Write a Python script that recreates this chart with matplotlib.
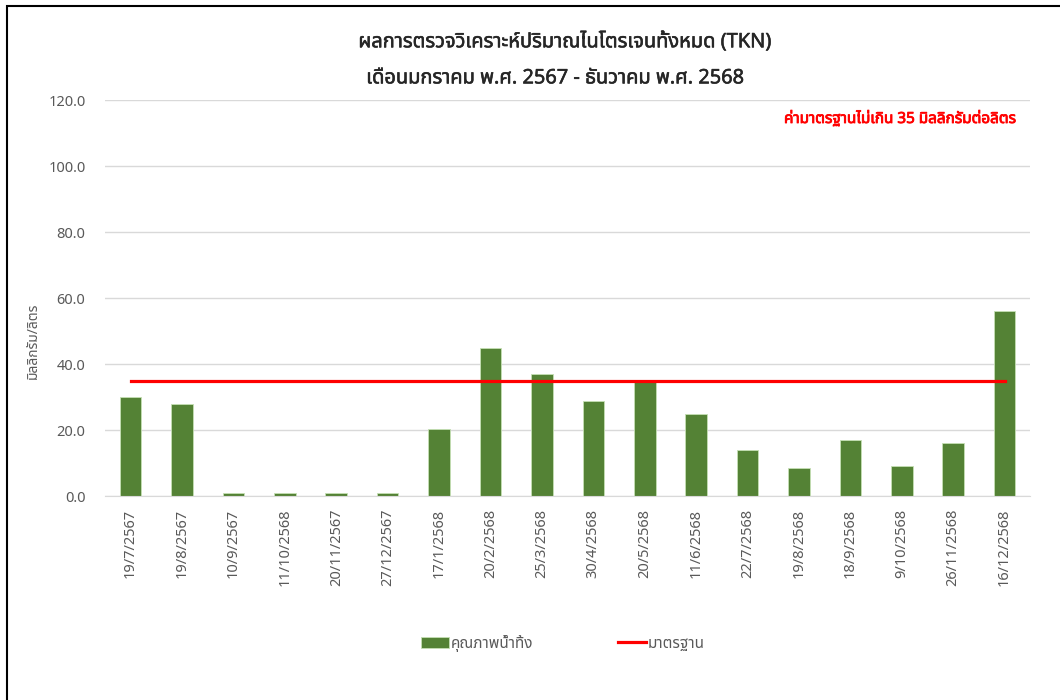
import numpy as np
import matplotlib
matplotlib.use('Agg')
import matplotlib.pyplot as plt
import matplotlib.patheffects as pe
from matplotlib import font_manager
from matplotlib.ft2font import FT2Font
from matplotlib.patches import Rectangle

# Data
dates = ['19/7/2567', '19/8/2567', '10/9/2567', '11/10/2568', '20/11/2567',
         '27/12/2567', '17/1/2568', '20/2/2568', '25/3/2568', '30/4/2568',
         '20/5/2568', '11/6/2568', '22/7/2568', '19/8/2568', '18/9/2568',
         '9/10/2568', '26/11/2568', '16/12/2568']
tkn = [30.0, 28.0, 1.0, 1.0, 1.0, 1.0, 20.3, 45.0, 37.0, 28.8,
       35.2, 25.0, 14.0, 8.7, 17.0, 9.1, 16.0, 56.0]
standard = [35.0] * len(dates)

# find a font that has Thai glyphs
def thai_fonts():
    prefer = ['Leelawadee', 'Tahoma', 'Noto Sans Thai', 'Noto Sans Thai UI',
              'Sarabun', 'Loma', 'Garuda', 'Kinnari', 'Norasi', 'Waree',
              'Umpush', 'Sawasdee', 'Laksaman', 'Purisa']
    found = []
    seen = set()
    for f in font_manager.fontManager.ttflist:
        if f.name in seen:
            continue
        try:
            if 0x0E01 in FT2Font(f.fname).get_charmap():
                found.append(f.name)
                seen.add(f.name)
        except Exception:
            pass
    found.sort(key=lambda n: prefer.index(n) if n in prefer else 99)
    return found

fams = thai_fonts() + ['DejaVu Sans']
plt.rcParams['font.family'] = fams

fig = plt.figure(figsize=(10.6, 7), dpi=100)
ax = fig.add_axes([0.099, 0.291, 0.873, 0.566])

x = np.arange(len(dates))
bars = ax.bar(x, tkn, width=0.42, color='#548235', edgecolor='#c5e0b4', linewidth=0.6,
              label='คุณภาพน้ำทิ้ง', zorder=2)
line, = ax.plot(x, standard, color='#ff0000', linewidth=2.3, label='มาตรฐาน', zorder=3)

ax.set_xlim(-0.5, len(dates) - 0.5)
ax.set_ylim(0, 120)
ax.set_yticks(np.arange(0, 121, 20))
ax.set_yticklabels(['%.1f' % v for v in np.arange(0, 121, 20)])
ax.set_xticks(x)
ax.set_xticklabels(dates, rotation=90)
ax.yaxis.grid(True, color='#d9d9d9', linewidth=1)
ax.set_axisbelow(True)
for s in ['top', 'right', 'left']:
    ax.spines[s].set_visible(False)
ax.spines['bottom'].set_color('#d9d9d9')
ax.tick_params(axis='y', length=0, pad=14, labelsize=10.5, labelcolor='#595959')
ax.tick_params(axis='x', length=0, pad=9, labelsize=10.5, labelcolor='#595959')

# fake bold, the Thai font has only a regular weight here
def bold(c, w=0.7):
    return [pe.withStroke(linewidth=w, foreground=c)]

fig.text(0.533, 0.94, 'ผลการตรวจวิเคราะห์ปริมาณไนโตรเจนทั้งหมด (TKN)',
         ha='center', va='center', fontsize=14.4, color='#262626',
         path_effects=bold('#262626', 0.4))
fig.text(0.524, 0.888, 'เดือนมกราคม พ.ศ. 2567 - ธันวาคม พ.ศ. 2568',
         ha='center', va='center', fontsize=14.4, color='#262626',
         path_effects=bold('#262626', 0.4))
fig.text(0.959, 0.83, 'ค่ามาตรฐานไม่เกิน 35 มิลลิกรัมต่อลิตร',
         ha='right', va='center', fontsize=11, color='#ff0000',
         path_effects=bold('#ff0000', 0.6))
fig.text(0.031, 0.513, 'มิลลิกรัม/ลิตร', rotation=90, ha='center', va='center',
         fontsize=10, color='#595959')

fig.legend(handles=[bars, line], loc='center', bbox_to_anchor=(0.531, 0.081), ncol=2,
           frameon=False, fontsize=11, handlelength=1.8, handletextpad=0.1,
           columnspacing=5.6, labelcolor='#595959')

# outer border like the Excel chart frame
fig.patches.append(Rectangle((7 / 1060, -0.1), 1.2, 1 - 6 / 700 + 0.1,
                             transform=fig.transFigure, fill=False,
                             edgecolor='black', linewidth=1.5))

fig.savefig('out.png', dpi=100)
